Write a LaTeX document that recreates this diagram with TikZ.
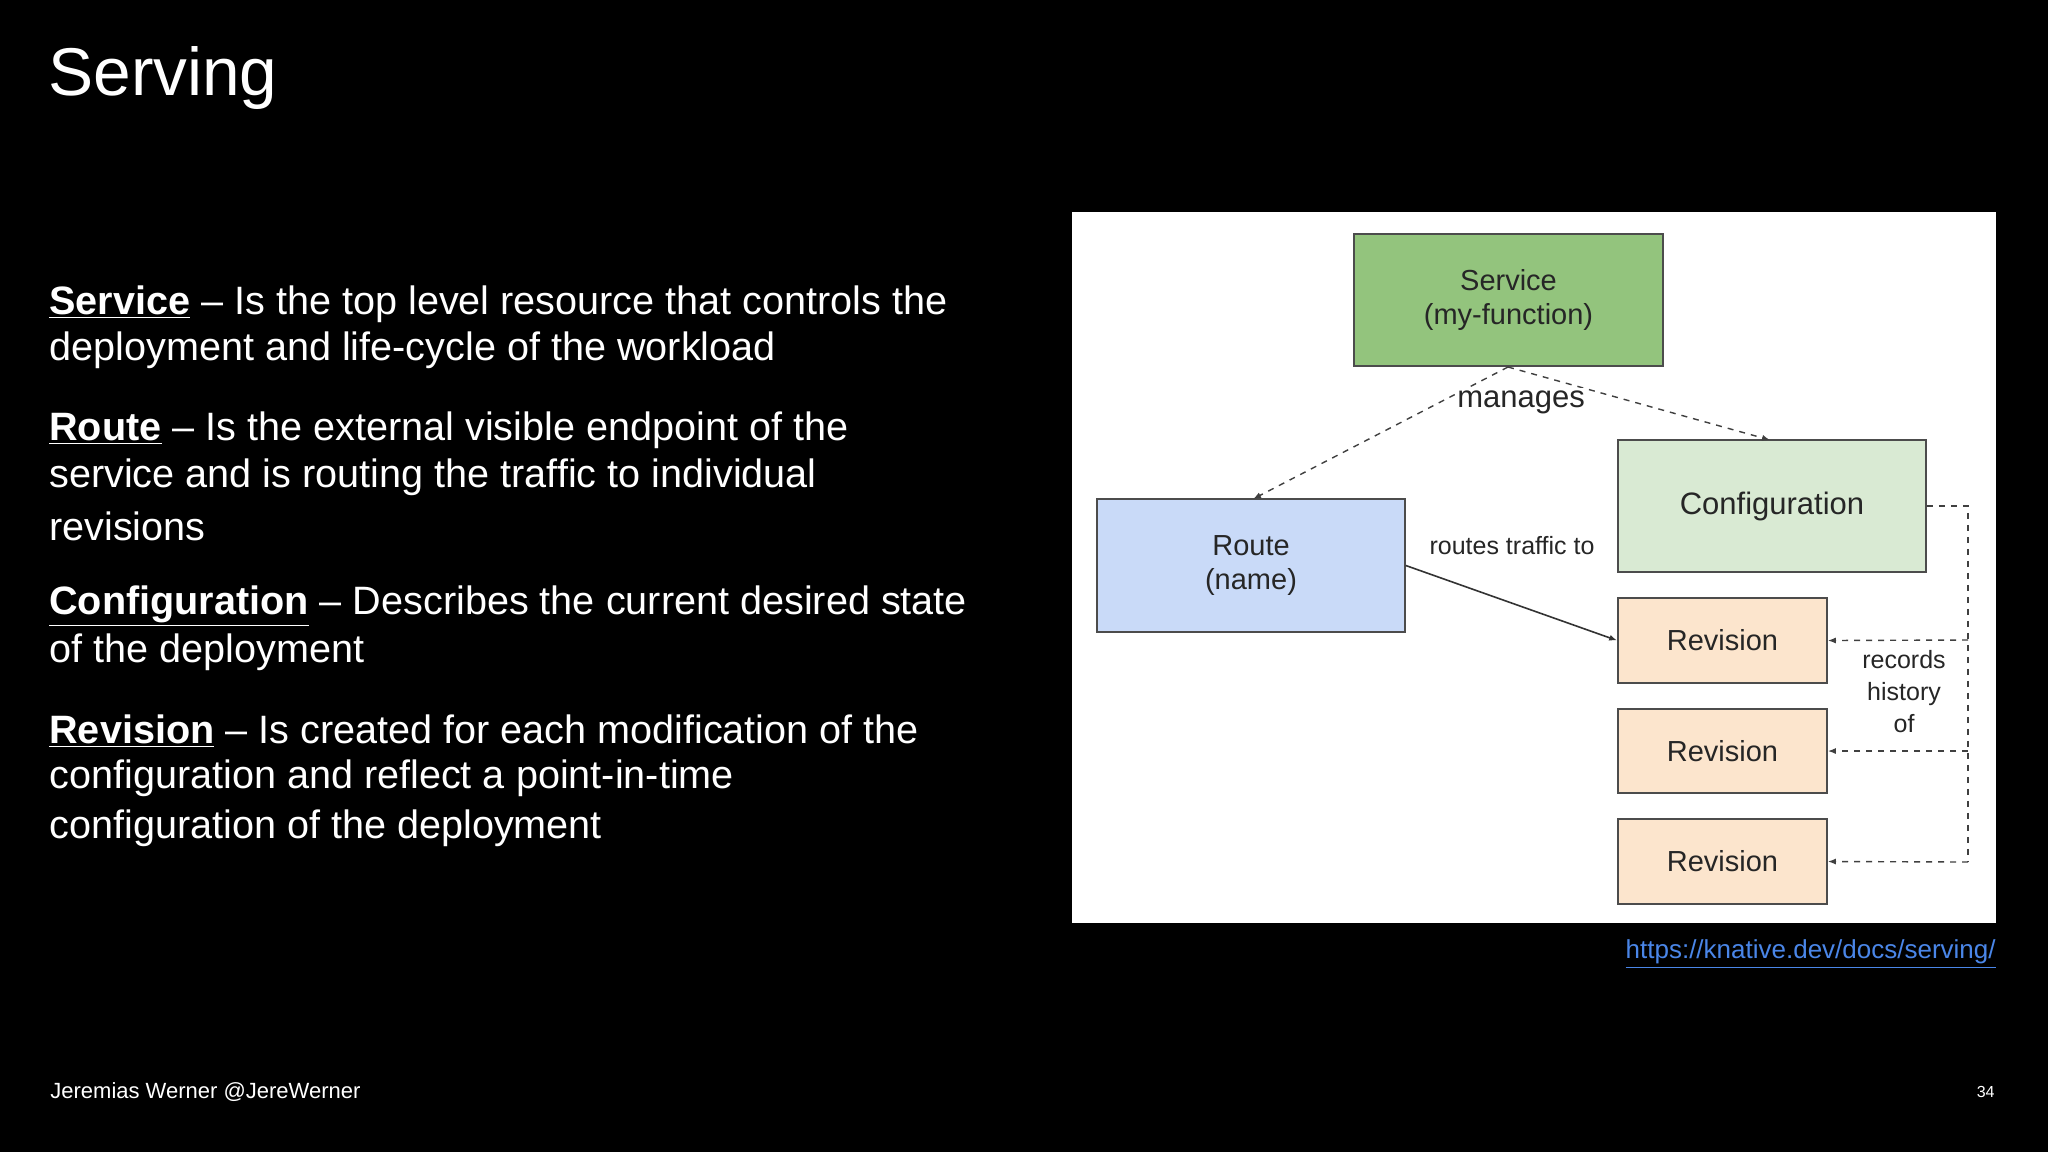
\documentclass[tikz,border=0pt]{standalone}
\usepackage{fontspec}
\setmainfont{Liberation Sans}
\usetikzlibrary{arrows.meta}
\definecolor{svc}{HTML}{93C47D}
\definecolor{rte}{HTML}{C9DAF8}
\definecolor{cfg}{HTML}{D9EAD3}
\definecolor{rev}{HTML}{FCE5CD}
\definecolor{lnk}{HTML}{4A86E8}
\begin{document}
\begin{tikzpicture}[x=0.5pt,y=-0.5pt,
  box/.style={draw=black!70,line width=0.8pt,inner sep=0pt,font=\fontsize{14.5}{17}\selectfont,align=center,text=black!85},
  body/.style={anchor=west,text=white,inner sep=0pt,font=\fontsize{19.8}{23}\selectfont},
  dsh/.style={dashed,draw=black!75,line width=0.7pt},
  tip/.style={-{Latex[length=4pt,width=3pt]}}]
\fill[black] (0,0) rectangle (2048,1152);
\useasboundingbox (0,0) rectangle (2048,1152);
\node[anchor=west,text=white,inner sep=0pt,font=\fontsize{33.8}{38}\selectfont] (title) at (48,78) {Serving};
\node[body] (l1) at (49,304) {\underline{\textbf{Service}} – Is the top level resource that controls the};
\node[body] (l2) at (49,350) {deployment and life-cycle of the workload};
\node[body] (l3) at (49,430) {\underline{\textbf{Route}} – Is the external visible endpoint of the};
\node[body] (l4) at (49,477) {service and is routing the traffic to individual};
\node[body] (l5) at (49,526) {revisions};
\node[body] (l6) at (49,606) {\underline{\textbf{Configuration}} – Describes the current desired state};
\node[body] (l7) at (49,652) {of the deployment};
\node[body] (l8) at (49,731) {\underline{\textbf{Revision}} – Is created for each modification of the};
\node[body] (l9) at (49,778) {configuration and reflect a point-in-time};
\node[body] (l10) at (49,828) {configuration of the deployment};
\fill[white] (1072,212) rectangle (1996,923);
\node[box,fill=svc,minimum width=154.5pt,minimum height=66pt] (svc) at (1508.5,300) {Service\\(my-function)};
\node[box,fill=rte,minimum width=154pt,minimum height=66.5pt] (rte) at (1251,565.5) {Route\\(name)};
\node[box,fill=cfg,minimum width=154pt,minimum height=66pt,font=\fontsize{15.5}{18}\selectfont] (cfg) at (1772,506) {Configuration};
\node[box,fill=rev,minimum width=104.5pt,minimum height=42.5pt] (r1) at (1722.5,640.5) {Revision};
\node[box,fill=rev,minimum width=104.5pt,minimum height=42pt] (r2) at (1722.5,751) {Revision};
\node[box,fill=rev,minimum width=104.5pt,minimum height=42.5pt] (r3) at (1722.5,861.5) {Revision};
\coordinate (sb) at (1508,367);
\draw[dsh,tip] (sb) -- (1253,499);
\draw[dsh,tip] (sb) -- (1770,440);
\node[fill=white,inner sep=1pt,font=\fontsize{15.5}{18}\selectfont,text=black!85] (mg) at (1521,402) {manages};
\draw[line width=0.8pt,draw=black!80,tip] (rte.east) -- (r1.west);
\node[font=\fontsize{12.5}{15}\selectfont,text=black!85] (rt) at (1512,546) {routes traffic to};
\coordinate (c1) at (1968,506);
\coordinate (c2) at (1968,862);
\draw[dsh] (cfg.east) -- (c1) -- (c2);
\draw[dsh,tip] (1968,640) -- (r1.east);
\draw[dsh,tip] (1968,751) -- (r2.east);
\draw[dsh,tip] (c2) -- (r3.east);
\node[fill=white,inner sep=1pt,font=\fontsize{12.5}{16}\selectfont,align=center,text=black!85] (rh) at (1904,692) {records\\history\\of};
\node[anchor=east,inner sep=0pt,text=lnk,font=\fontsize{13}{15}\selectfont] (url) at (1996,954) {\underline{https://knative.dev/docs/serving/}};
\node[anchor=west,inner sep=0pt,text=white,font=\fontsize{11}{13}\selectfont] (ft) at (50,1092) {Jeremias Werner @JereWerner};
\node[anchor=east,inner sep=0pt,text=white,font=\fontsize{8}{10}\selectfont] (pg) at (1995,1092) {34};
\end{tikzpicture}
\end{document}
